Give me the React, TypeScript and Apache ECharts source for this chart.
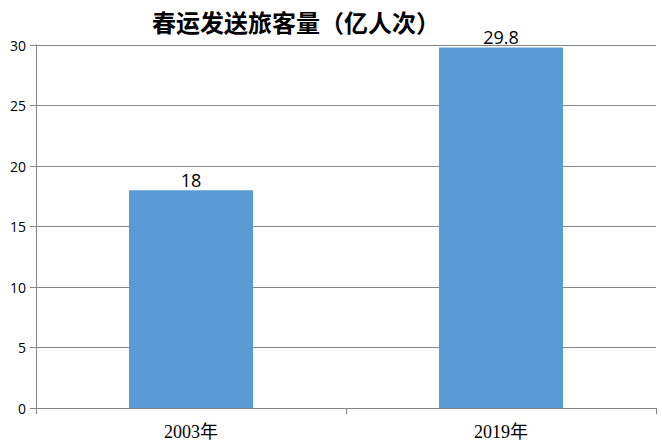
import React, { useEffect, useRef } from "react";
import * as echarts from "echarts";

const title = "春运发送旅客量（亿人次）";
const categories = ["2003年", "2019年"];
const values = [18, 29.8];
const yTicks = [0, 5, 10, 15, 20, 25, 30];

export default function App() {
  const ref = useRef<HTMLDivElement>(null);
  useEffect(() => {
    const chart = echarts.init(ref.current!, undefined, { renderer: "svg" });
    chart.setOption({
      animation: false,
      backgroundColor: "#ffffff",
      title: {
        text: title,
        left: 291,
        textAlign: "center",
        top: 4,
        textStyle: {
          fontFamily: "Noto Sans CJK SC",
          fontWeight: "bold",
          fontSize: 24,
          color: "#000",
        },
      },
      grid: { left: 36, right: 6, top: 45, bottom: 38 },
      xAxis: {
        type: "category",
        data: categories,
        axisLine: { lineStyle: { color: "#868686" } },
        axisTick: { show: true, alignWithLabel: false, length: 6, lineStyle: { color: "#868686" } },
        axisLabel: {
          fontFamily: "Liberation Serif, Noto Sans CJK SC",
          fontSize: 18,
          color: "#000",
          margin: 15,
        },
      },
      yAxis: {
        type: "value",
        min: yTicks[0],
        max: yTicks[yTicks.length - 1],
        interval: 5,
        axisLine: { show: true, lineStyle: { color: "#868686" } },
        axisTick: { show: true, length: 6, lineStyle: { color: "#868686" } },
        axisLabel: { fontFamily: "Open Sans", fontSize: 14, color: "#000", margin: 10 },
        splitLine: { lineStyle: { color: "#868686", width: 1 } },
      },
      series: [
        {
          type: "bar",
          data: values,
          barWidth: "40%",
          itemStyle: { color: "#5B9BD5" },
          label: {
            show: true,
            position: "top",
            fontFamily: "Open Sans",
            fontSize: 18,
            color: "#000",
            distance: 1,
          },
        },
      ],
    });
    return () => chart.dispose();
  }, []);
  return <div ref={ref} style={{ width: 662, height: 446, position: "absolute", left: 0, top: 0 }} />;
}
